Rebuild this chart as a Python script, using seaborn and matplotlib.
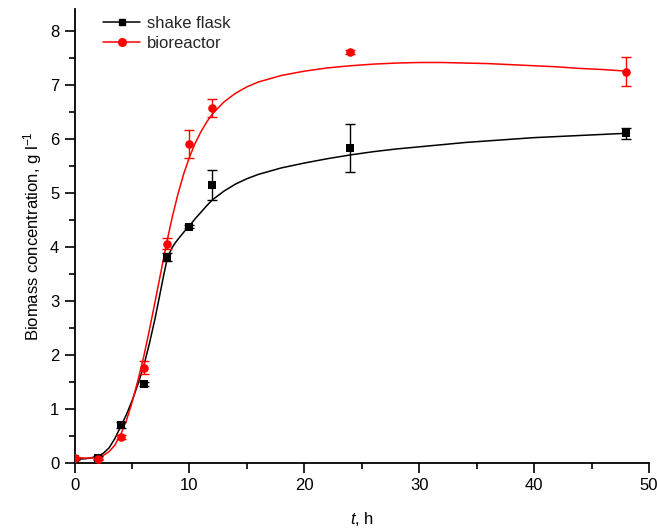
import matplotlib
matplotlib.use("Agg")
import matplotlib.pyplot as plt
import seaborn as sns
import pandas as pd
from matplotlib.lines import Line2D
from matplotlib.ticker import MultipleLocator

sns.set_theme(style="ticks")
plt.rcParams['font.family'] = ['Liberation Sans', 'DejaVu Sans']
plt.rcParams['mathtext.fontset'] = 'custom'
plt.rcParams['mathtext.rm'] = 'Liberation Sans'
plt.rcParams['mathtext.it'] = 'Liberation Sans:italic'

# measured points
t_meas = [0, 2, 4, 6, 8, 10, 12, 24, 48]
flask_mean = [0.08, 0.10, 0.70, 1.46, 3.81, 4.37, 5.15, 5.83, 6.10]
flask_err = [0.02, 0.03, 0.06, 0.03, 0.08, 0.03, 0.28, 0.44, 0.10]
bio_mean = [0.09, 0.08, 0.48, 1.76, 4.06, 5.90, 6.57, 7.60, 7.24]
bio_err = [0.02, 0.03, 0.03, 0.12, 0.10, 0.26, 0.17, 0.04, 0.27]

# fitted curves
t_fit_flask = [0, 1, 2, 2.5, 3, 3.5, 4, 4.5, 5, 5.5, 6, 6.5, 7, 7.5, 7.75, 8, 8.25,
               8.5, 8.75, 9, 9.5, 10, 10.5, 11, 11.5, 12, 13, 14, 15, 16, 18, 20,
               22, 24, 26, 28, 30, 32, 34, 36, 38, 40, 42, 44, 46, 48]
flask_fit = [0.07, 0.08, 0.12, 0.18, 0.28, 0.45, 0.67, 0.89, 1.15, 1.45, 1.78,
             2.2, 2.67, 3.2, 3.47, 3.72, 3.88, 3.99, 4.07, 4.14, 4.27, 4.39, 4.52,
             4.64, 4.76, 4.87, 5.03, 5.16, 5.26, 5.34, 5.46, 5.55, 5.63, 5.70,
             5.76, 5.81, 5.85, 5.89, 5.93, 5.96, 5.99, 6.02, 6.04, 6.06, 6.08, 6.10]
t_fit_bio = [0, 1, 2, 2.5, 3, 3.5, 4, 4.5, 5, 5.5, 6, 6.5, 7, 7.5, 8, 8.5, 9, 9.5,
             10, 10.5, 11, 11.5, 12, 13, 14, 15, 16, 18, 20, 22, 24, 26, 28, 30,
             32, 34, 36, 38, 40, 42, 44, 46, 48]
bio_fit = [0.10, 0.09, 0.10, 0.14, 0.21, 0.33, 0.52, 0.78, 1.12, 1.52, 1.95, 2.45,
           2.98, 3.52, 4.06, 4.55, 4.98, 5.35, 5.66, 5.92, 6.13, 6.31, 6.46, 6.68,
           6.84, 6.96, 7.05, 7.17, 7.25, 7.31, 7.35, 7.38, 7.40, 7.41, 7.41, 7.40,
           7.39, 7.37, 7.35, 7.33, 7.30, 7.28, 7.25]

BLACK = "#000000"
RED = "#ff0000"

fig = plt.figure(figsize=(6.57, 5.28), dpi=100)
ax = fig.add_axes([74.6 / 657, 65 / 528, (649 - 74.6) / 657, (463 - 9) / 528])

flask_df = pd.DataFrame({"t": t_fit_flask, "v": flask_fit})
bio_df = pd.DataFrame({"t": t_fit_bio, "v": bio_fit})
meas_df = pd.DataFrame({"t": t_meas, "flask": flask_mean, "bio": bio_mean})

sns.lineplot(data=flask_df, x="t", y="v", ax=ax, color=BLACK, lw=1.1, zorder=2)
sns.lineplot(data=bio_df, x="t", y="v", ax=ax, color=RED, lw=1.1, zorder=2)

ax.errorbar(t_meas, flask_mean, yerr=flask_err, fmt="none", ecolor=BLACK,
            elinewidth=1.0, capsize=3.6, capthick=1.0, zorder=3)
ax.errorbar(t_meas, bio_mean, yerr=bio_err, fmt="none", ecolor=RED,
            elinewidth=1.0, capsize=3.6, capthick=1.0, zorder=3)

sns.scatterplot(data=meas_df, x="t", y="flask", ax=ax, color=BLACK, marker="s",
                s=30, linewidth=0, zorder=4)
sns.scatterplot(data=meas_df, x="t", y="bio", ax=ax, color=RED, marker="o",
                s=38, linewidth=0, zorder=4)

ax.set_xlim(0, 50)
ax.set_ylim(0, 8.4)
ax.xaxis.set_major_locator(MultipleLocator(10))
ax.xaxis.set_minor_locator(MultipleLocator(5))
ax.yaxis.set_major_locator(MultipleLocator(1))
ax.yaxis.set_minor_locator(MultipleLocator(0.5))
ax.tick_params(which="major", direction="out", length=7, width=1.2,
               labelsize=12, colors=BLACK, pad=4)
ax.tick_params(which="minor", direction="out", length=4, width=1.2, colors=BLACK)
for side in ["top", "right"]:
    ax.spines[side].set_visible(False)
for side in ["left", "bottom"]:
    ax.spines[side].set_linewidth(1.3)
    ax.spines[side].set_color(BLACK)

ax.set_xlabel("$t$, h", fontsize=12, labelpad=12, color=BLACK)
ax.set_ylabel("Biomass concentration, g l$^{-1}$", fontsize=12, labelpad=4, color=BLACK)

handles = [
    Line2D([0], [0], color=BLACK, lw=1.1, marker="s", markersize=5),
    Line2D([0], [0], color=RED, lw=1.1, marker="o", markersize=5.5),
]
ax.legend(handles, ["shake flask", "bioreactor"], loc="upper left",
          bbox_to_anchor=(0.023, 1.017), frameon=False, fontsize=12,
          handlelength=2.25, handletextpad=0.4, labelspacing=0.3)

fig.savefig("out.png", dpi=100)
